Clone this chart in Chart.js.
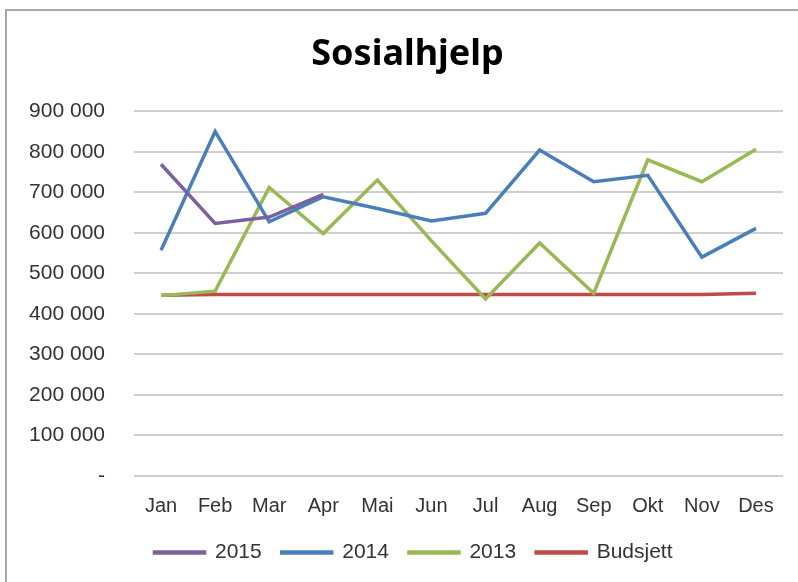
<!DOCTYPE html>
<html>
<head>
<meta charset="utf-8">
<script src="https://cdn.jsdelivr.net/npm/chart.js@4"></script>
<style>
  html, body { margin: 0; padding: 0; background: #fff; overflow: hidden; }
  #frame { position: absolute; left: 5px; top: 9px; width: 800px; height: 600px;
           border-top: 2px solid #a8a8a8; border-left: 2px solid #a8a8a8; }
  #wrap { position: absolute; left: 0; top: 0; width: 798px; height: 582px; }
</style>
</head>
<body>
<div id="frame"></div>
<div id="wrap"><canvas id="chart"></canvas></div>
<script>
// values
const months = ['Jan', 'Feb', 'Mar', 'Apr', 'Mai', 'Jun', 'Jul', 'Aug', 'Sep', 'Okt', 'Nov', 'Des'];
const values2015 = [769000, 623000, 639000, 695000];
const values2014 = [557000, 850000, 627000, 689000, 660000, 629000, 648000, 804000, 726000, 742000, 540000, 611000];
const values2013 = [445000, 456000, 712000, 598000, 730000, 580000, 437000, 575000, 451000, 780000, 726000, 806000];
const budsjett = [446000, 448000, 448000, 448000, 448000, 448000, 448000, 448000, 448000, 448000, 448000, 451000];
const yTickLabels = ['-', '100 000', '200 000', '300 000', '400 000', '500 000', '600 000', '700 000', '800 000', '900 000'];

const font = '"Liberation Sans", Arial, sans-serif';

function line(label, data, color) {
    return {
        label,
        data,
        borderColor: color,
        backgroundColor: color,
        borderWidth: 3.5,
        pointRadius: 0,
        tension: 0
    };
}

// Excel put the title and legend a bit right of the canvas centre
const shiftBoxes = {
    id: 'shiftBoxes',
    afterLayout(chart) {
        chart.titleBlock.left += 16;
        chart.titleBlock.right += 16;
        chart.legend.left += 22;
        chart.legend.right += 22;
    }
};

new Chart(document.getElementById('chart'), {
    type: 'line',
    data: {
        labels: months,
        datasets: [
            line('2015', values2015, '#7D60A0'),
            line('2014', values2014, '#4A7EBB'),
            line('2013', values2013, '#98B954'),
            line('Budsjett', budsjett, '#BE4B48')
        ]
    },
    plugins: [shiftBoxes],
    options: {
        responsive: true,
        maintainAspectRatio: false,
        animation: false,
        layout: { padding: { left: 0, right: 15, top: 0, bottom: 9 } },
        plugins: {
            title: {
                display: true,
                text: 'Sosialhjelp',
                color: '#000',
                font: { family: '"Noto Sans", sans-serif', size: 36, weight: 'bold' },
                padding: { top: 33, bottom: 35 }
            },
            legend: {
                position: 'bottom',
                labels: {
                    color: '#333',
                    font: { family: font, size: 21 },
                    boxWidth: 50,
                    boxHeight: 1,
                    padding: 20
                }
            },
            tooltip: { enabled: false }
        },
        scales: {
            x: {
                offset: true,
                grid: { display: false, drawTicks: false },
                border: { display: false },
                ticks: { color: '#333', font: { family: font, size: 20 }, padding: 18, maxRotation: 0 },
                afterFit: scale => { scale.height = 46; }
            },
            y: {
                min: 0,
                max: 900000,
                grid: { color: '#cfcfcf', lineWidth: 2, drawTicks: false },
                border: { display: false },
                ticks: {
                    stepSize: 100000,
                    color: '#333',
                    font: { family: font, size: 21 },
                    padding: 29,
                    callback: (value, index) => yTickLabels[index]
                },
                afterFit: scale => { scale.width = 134; }
            }
        }
    }
});
</script>
</body>
</html>
